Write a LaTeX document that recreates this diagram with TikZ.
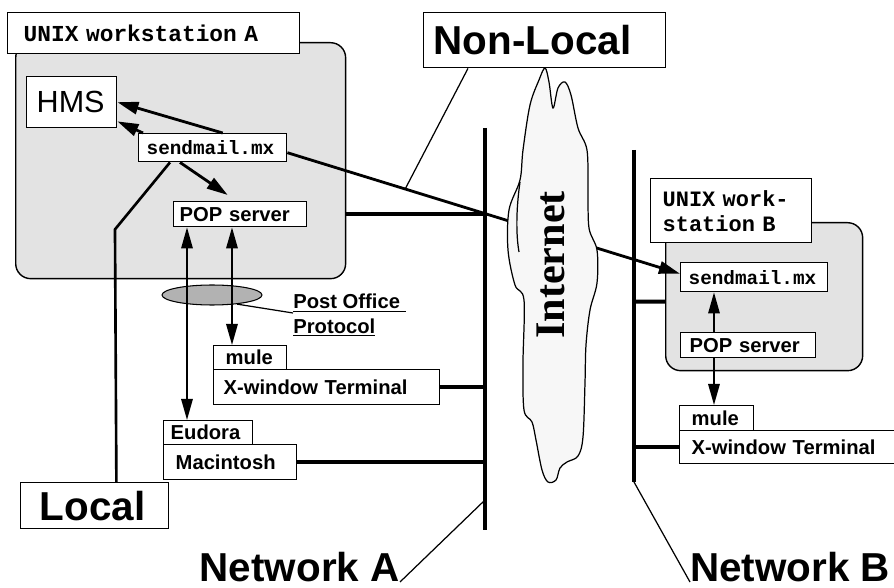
\documentclass[tikz,border=0pt]{standalone}
\usepackage{fontspec}
\setmainfont{Liberation Sans}
\setmonofont{Liberation Mono}
\newfontfamily\inetfont{Liberation Serif}
\usetikzlibrary{arrows.meta,shapes.geometric}

\tikzset{
  box/.style={draw,fill=white,line width=0.8pt,anchor=north west,align=left,inner ysep=0pt},
  wsbox/.style={draw,fill=gray!22,line width=0.8pt,rounded corners=0.3cm,anchor=north west,inner sep=0pt},
  big/.style={font=\fontsize{23}{26}\selectfont\bfseries},
  sans/.style={font=\fontsize{11.5}{13}\selectfont\bfseries},
  mono/.style={font=\fontsize{11}{13}\selectfont\ttfamily\bfseries},
  monobig/.style={font=\fontsize{13}{15}\selectfont\ttfamily\bfseries},
  net/.style={line width=2.8pt},
  tap/.style={line width=2.3pt},
  leader/.style={line width=0.7pt},
  msg/.style={line width=1.6pt,-{Triangle[length=12pt,width=7pt]}},
  arr/.style={line width=1.1pt,-{Triangle[length=12pt,width=6.5pt]}},
  popline/.style={line width=1.1pt,{Triangle[length=12pt,width=6.5pt]}-{Triangle[length=12pt,width=6.5pt]}}
}

\begin{document}
\begin{tikzpicture}[x=0.02cm,y=-0.02cm]
\useasboundingbox (0,0) rectangle (894,588);

\node[wsbox,minimum width=6.6cm,minimum height=4.72cm] (wsA) at (15,42) {};
\node[wsbox,minimum width=3.94cm,minimum height=2.96cm] (wsB) at (665,222) {};

% workstation A
\node[box,monobig,minimum height=0.82cm,text width=5.2cm,inner xsep=0.32cm] (wsAlab) at (7,12) {UNIX workstation A};
\node[box,font=\fontsize{17.4}{20}\selectfont,minimum height=1.02cm,text width=1.4cm,inner xsep=0.2cm] (hms) at (26,76) {HMS};
\node[box,mono,minimum height=0.56cm,text width=2.64cm,inner xsep=0.16cm] (sendA) at (138,133) {sendmail.mx};
\node[box,sans,minimum height=0.5cm,text width=2.42cm,inner xsep=0.12cm] (popA) at (173,201) {POP server};
\node[box,sans,minimum height=0.48cm,text width=0.98cm,inner xsep=0.24cm] (muleA) at (213,345) {mule};
\node[box,sans,minimum height=0.7cm,text width=4.12cm,inner xsep=0.2cm] (xwinA) at (213,369) {X-window Terminal};
\node[box,sans,minimum height=0.48cm,text width=1.5cm,inner xsep=0.14cm] (eudora) at (163,420) {Eudora};
\node[box,sans,minimum height=0.7cm,text width=2.18cm,inner xsep=0.24cm] (mac) at (163,444) {Macintosh};
\node[box,big,minimum height=0.92cm,text width=2.2cm,inner xsep=0.38cm] (local) at (20,482) {Local};
\node[box,big,minimum height=1.1cm,text width=4.44cm,inner xsep=0.2cm] (nonlocal) at (423,12) {Non-Local};

% workstation B
\node[box,font=\fontsize{12.5}{14.2}\selectfont\ttfamily\bfseries,minimum height=1.28cm,text width=2.74cm,inner xsep=0.24cm] (wsBlab) at (650,178) {UNIX work-\\station B};
\node[box,mono,minimum height=0.58cm,text width=2.62cm,inner xsep=0.16cm] (sendB) at (680,262) {sendmail.mx};
\node[box,sans,minimum height=0.5cm,text width=2.34cm,inner xsep=0.18cm] (popB) at (680,332) {POP server};
\node[box,sans,minimum height=0.5cm,text width=1.0cm,inner xsep=0.24cm] (muleB) at (679,405) {mule};
\node[box,sans,minimum height=0.66cm,text width=4.02cm,inner xsep=0.24cm] (xwinB) at (679,430) {X-window Terminal};

\node[ellipse,draw,fill=gray!60,line width=0.6pt,minimum width=2cm,minimum height=0.4cm,inner sep=0pt] (popp) at (212,295) {};
\node[anchor=north west,align=left,inner sep=0pt,font=\fontsize{11.5}{13.7}\selectfont\bfseries] (postlab) at (293,294) {\underline{Post Office\ }\\\underline{Protocol}};

\coordinate (netAtop) at (485,128);
\coordinate (netAbot) at (485,530);
\coordinate (netBtop) at (634,150);
\coordinate (netBbot) at (634,482);
\node[big,anchor=base east,inner sep=0pt] (netAlab) at (400,582) {Network A};
\node[big,anchor=base west,inner sep=0pt] (netBlab) at (690,582) {Network B};

% mail across the internet
\draw[msg] ([yshift=-0.1cm]sendA.east) -- coordinate[pos=0.3] (nlfoot) ([yshift=0.07cm]sendB.west);
\draw[leader] ([xshift=0.9cm]nonlocal.south west) -- (nlfoot);

\draw[line width=0.7pt,fill=gray!6] plot[smooth cycle,tension=0.55] coordinates {
  (545,68) (549,82) (553,108) (558,88) (565,82) (571,95) (578,128) (587,150)
  (588,190) (589,228) (597,250) (597,283) (590,310) (586,345) (585,383) (583,437)
  (578,456) (567,462) (560,468) (556,480) (548,482) (542,470) (536,440) (532,422)
  (524,410) (523,363) (524,300) (515,285) (508,250) (509,210) (520,180) (523,150)
  (530,105) (539,80)};
\draw[line width=0.7pt] (520,182) .. controls (516,210) and (516,235) .. (519,252);
\node[rotate=90,font=\fontsize{24}{28}\selectfont\inetfont\bfseries] (inet) at (551,265) {Internet};

% networks
\draw[net] (netAtop) -- (netAbot);
\draw[net] (netBtop) -- (netBbot);
\draw[tap] (wsA.east |- popA.east) -- (popA.east -| netAtop);
\draw[tap] (xwinA.east) -- (xwinA.east -| netAtop);
\draw[tap] (mac.east) -- (mac.east -| netAtop);
\draw[tap] (netBtop |- wsB.west) ++(0,5) -- ([yshift=-0.1cm]wsB.west);
\draw[tap] (netBtop |- xwinB.west) -- (xwinB.west);

\draw[leader] (netAlab.base east) -- ([yshift=0.6cm]netAbot);
\draw[leader] (netBbot) -- (netBlab.base west);
\draw[leader] (popp.-20) -- ([yshift=-0.38cm]postlab.north west);
\draw[line width=1.5pt] ([xshift=0.64cm]sendA.south west) -- ++(-55,67) -- ([xshift=-1.06cm]local.north east);

% arrows
\draw[msg] ([xshift=0.2cm]sendA.north) -- (hms.east);
\draw[msg] ([xshift=0.1cm]sendA.north west) -- ([yshift=0.14cm]hms.south east);
\draw[msg] ([xshift=0.84cm]sendA.south west) -- ([xshift=-0.25cm,yshift=0.12cm]popA.north);
\draw[popline] ([xshift=0.28cm]popA.south west) -- ([xshift=0.28cm]popA.south west |- eudora.north);
\draw[popline] ([xshift=1.18cm]popA.south west) -- ([xshift=1.18cm]popA.south west |- muleA.north);
\draw[arr] ([xshift=0.68cm]popB.north west) -- ([xshift=0.68cm]popB.north west |- sendB.south);
\draw[arr] ([xshift=0.68cm]popB.south west) -- ([xshift=0.68cm]popB.south west |- muleB.north);
\end{tikzpicture}
\end{document}
